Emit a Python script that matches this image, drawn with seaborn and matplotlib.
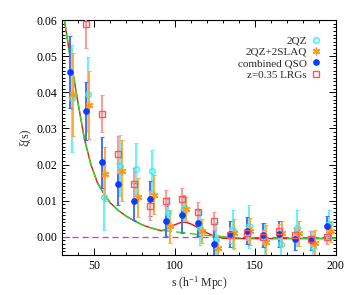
import numpy as np
import matplotlib
matplotlib.use("Agg")
import matplotlib.pyplot as plt
import seaborn as sns
from matplotlib.ticker import MultipleLocator

# bin centres (h^-1 Mpc)
s_qso = [35, 45, 55, 65, 75, 85, 95, 105, 115, 125, 135, 145, 155, 165, 175, 185, 195]
s_lrg = [45, 55, 65, 75, 85, 95, 105, 115, 125, 135, 145, 155, 165, 175, 185, 195]

# 2QZ
xi_2qz = [0.0383, 0.0394, 0.0109, 0.0197, 0.0189, 0.0182, 0.0066, 0.0080, 0.0024, -0.0008,
          0.0019, 0.0029, -0.0008, -0.0019, 0.0024, -0.0027, 0.0036]
err_2qz = [0.0147, 0.0104, 0.0090, 0.0085, 0.0070, 0.0058, 0.0045, 0.0037, 0.0048, 0.0050,
           0.0054, 0.0060, 0.0047, 0.0038, 0.0050, 0.0042, 0.0037]
# 2QZ+2SLAQ
xi_2slaq = [0.0394, 0.0365, 0.0174, 0.0183, 0.0110, 0.0117, 0.0029, 0.0077, 0.0015, -0.0031,
            0.0010, 0.0015, -0.0013, 0.0010, 0.0010, -0.0018, 0.0015]
err_2slaq = [0.0114, 0.0093, 0.0074, 0.0084, 0.0054, 0.0053, 0.0045, 0.0034, 0.0033, 0.0037,
             0.0040, 0.0037, 0.0045, 0.0035, 0.0035, 0.0037, 0.0030]
# combined QSO
xi_comb = [0.0457, 0.0348, 0.0206, 0.0146, 0.0098, 0.0106, 0.0044, 0.0060, 0.0038, -0.0020,
           0.0008, 0.0017, 0.0006, 0.0008, -0.0006, -0.0010, 0.0030]
err_comb = [0.0100, 0.0080, 0.0070, 0.0057, 0.0051, 0.0048, 0.0042, 0.0050, 0.0035, 0.0040,
            0.0037, 0.0038, 0.0033, 0.0035, 0.0031, 0.0026, 0.0028]
# z=0.35 LRGs
xi_lrg = [0.0589, 0.0341, 0.0228, 0.0146, 0.0086, 0.0098, 0.0106, 0.0069, 0.0045, 0.0005,
          0.0010, 0.0000, 0.0015, 0.0005, -0.0005, 0.0000]
err_lrg = [0.0065, 0.0052, 0.0050, 0.0045, 0.0040, 0.0032, 0.0030, 0.0026, 0.0025, 0.0022,
           0.0020, 0.0020, 0.0020, 0.0020, 0.0020, 0.0020]

# model curves
s_model = [31.5, 35, 37, 40, 44, 48, 52, 56, 60, 65, 70, 75, 80, 85, 90, 92, 96, 100, 104,
           107, 110, 115, 120, 125, 130, 140, 160, 180, 200]
xi_red = [0.060, 0.050, 0.045, 0.037, 0.027, 0.020, 0.0150, 0.0120, 0.0094, 0.0073, 0.0057,
          0.0044, 0.0033, 0.0025, 0.0019, 0.0017, 0.0022, 0.0033, 0.0040, 0.0040, 0.0036,
          0.0024, 0.0011, 0.0001, -0.0004, -0.0005, -0.0005, -0.0005, -0.0005]
xi_green = [0.060, 0.050, 0.045, 0.037, 0.027, 0.020, 0.0150, 0.0120, 0.0094, 0.0073, 0.0057,
            0.0044, 0.0033, 0.0025, 0.0019, 0.0018, 0.0016, 0.0014, 0.0012, 0.0011, 0.0009,
            0.0006, 0.0004, 0.0002, 0.0000, -0.0003, -0.0004, -0.0004, -0.0004]

sns.set_theme(style="ticks")
plt.rcParams['font.family'] = ['Liberation Serif', 'DejaVu Serif']
plt.rcParams['mathtext.fontset'] = 'stix'

fig = plt.figure(figsize=(3.54, 2.95), dpi=100)
ax = fig.add_axes([0.175, 0.136, 0.773, 0.796])

ax.axhline(0, color='#ee22ee', ls=(0, (5, 3)), lw=0.9, zorder=1)
sns.lineplot(x=s_model, y=xi_red, color='#ee1111', lw=1.0, ax=ax, zorder=2)
sns.lineplot(x=s_model, y=xi_green, color='#22dd22', lw=1.0, ls=(0, (7, 3)), ax=ax, zorder=2)

series = [
    ("2QZ", np.array(s_qso) + 1.0, xi_2qz, err_2qz, '#33eeff', '#66f0ff', 'o', 'none', 4),
    ("2QZ+2SLAQ", np.array(s_qso) + 2.0, xi_2slaq, err_2slaq, '#ff9911', '#ffaa33', (6, 2, 0), '#ff9911', 5.5),
    ("combined QSO", np.array(s_qso) - 0.3, xi_comb, err_comb, '#0b3bff', '#4470ff', 'o', '#0b3bff', 3.8),
    ("z=0.35 LRGs", np.array(s_lrg) - 0.3, xi_lrg, err_lrg, '#ff5555', '#ff9999', 's', 'none', 4.3),
]

handles = []
for label, x, y, e, col, ecol, mk, fc, ms in series:
    ax.errorbar(x, y, yerr=e, fmt='none', ecolor=ecol, elinewidth=1.4, capsize=1.5,
                capthick=0.8, zorder=3)
    h, = ax.plot(x, y, ls='none', marker=mk, markersize=ms, markerfacecolor=fc,
                 markeredgecolor=col, markeredgewidth=1.0, label=label, zorder=4)
    handles.append(h)

ax.set_xlim(30, 200)
ax.set_ylim(-0.005, 0.06)
ax.xaxis.set_major_locator(MultipleLocator(50))
ax.xaxis.set_minor_locator(MultipleLocator(10))
ax.yaxis.set_major_locator(MultipleLocator(0.01))
ax.yaxis.set_minor_locator(MultipleLocator(0.001))
ax.yaxis.set_major_formatter(matplotlib.ticker.FormatStrFormatter('%.2f'))
ax.tick_params(which='both', direction='in', top=True, right=True, labelsize=8.5,
               colors='black', width=0.7)
ax.tick_params(which='major', length=5)
ax.tick_params(which='minor', length=2.5)
for sp in ax.spines.values():
    sp.set_linewidth(0.8)
    sp.set_color('black')

ax.set_xlabel(r's (h$^{\mathregular{-1}}$ Mpc)', fontsize=8.5, labelpad=2)
ax.set_ylabel('ξ(s)', fontsize=8.5, labelpad=4)

ax.legend(handles=handles, loc='upper right', frameon=False, markerfirst=False,
          fontsize=8, handlelength=0.8, handletextpad=0.4, labelspacing=0.15,
          borderaxespad=1.0)

fig.savefig('out.png', dpi=100)
